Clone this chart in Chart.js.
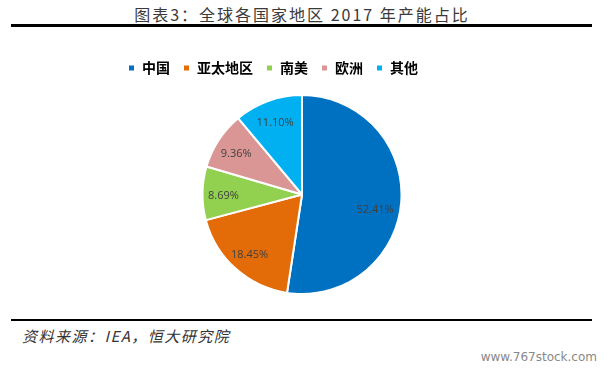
<!DOCTYPE html>
<html>
<head>
<meta charset="utf-8">
<script src="https://cdn.jsdelivr.net/npm/chart.js@4/dist/chart.umd.min.js"></script>
<style>
  body { margin: 0; width: 604px; height: 370px; background: #fff; position: relative; overflow: hidden; }
  #title { position: absolute; top: 2px; left: 0; width: 604px; text-align: center; font: 16px "Noto Sans CJK SC", serif; color: #3a3a3a; letter-spacing: 2px; }
  .rule { position: absolute; left: 11px; width: 581px; background: #000; }
  #src { position: absolute; left: 22px; top: 325px; font: italic 15px "Noto Sans CJK SC", serif; color: #333; letter-spacing: 1.5px; }
  #mark { position: absolute; right: 7px; top: 350px; font: 12px "DejaVu Sans", sans-serif; color: #888; }
  #box { position: absolute; left: 0; top: 48px; width: 604px; height: 256px; }
</style>
</head>
<body>
<div id="title">图表3：全球各国家地区 2017 年产能占比</div>
<div class="rule" style="top:24px;height:3px"></div>
<div id="box"><canvas id="pie"></canvas></div>
<div class="rule" style="top:319px;height:2px"></div>
<div id="src">资料来源：IEA，恒大研究院</div>
<div id="mark">www.767stock.com</div>
<script>
var regions = ["中国", "亚太地区", "南美", "欧洲", "其他"];
var shares = [52.41, 18.45, 8.69, 9.36, 11.10];
var colors = ["#0070C0", "#E36C09", "#92D050", "#D99694", "#00B0F0"];

// 在扇区内画百分比
var pctLabels = {
  id: "pctLabels",
  afterDatasetsDraw: function(chart) {
    var ctx = chart.ctx;
    var meta = chart.getDatasetMeta(0);
    ctx.save();
    ctx.font = "11px 'Open Sans'";
    ctx.fillStyle = "#404040";
    ctx.textAlign = "center";
    ctx.textBaseline = "middle";
    meta.data.forEach(function(arc, i) {
      var mid = (arc.startAngle + arc.endAngle) / 2;
      var r = arc.outerRadius * 0.79;
      if (i == 0) { // 大扇区的标签稍微往下放
        mid += 0.1;
        r = arc.outerRadius * 0.745;
      }
      ctx.fillText(shares[i].toFixed(2) + "%", arc.x + Math.cos(mid) * r, arc.y + Math.sin(mid) * r + 2);
    });
    ctx.restore();
  }
};

// 图例整体往左挪一点
var shiftLegend = {
  id: "shiftLegend",
  afterLayout: function(chart) {
    chart.legend.left -= 29;
    chart.legend.right -= 29;
  }
};

new Chart(document.getElementById("pie").getContext("2d"), {
  type: "pie",
  data: {
    labels: regions,
    datasets: [{
      data: shares,
      backgroundColor: colors,
      borderColor: "#fff",
      borderWidth: 2,
      radius: 99.5
    }]
  },
  options: {
    responsive: true,
    maintainAspectRatio: false,
    animation: false,
    layout: { padding: 0 },
    plugins: {
      legend: {
        position: "top",
        labels: {
          boxWidth: 7,
          boxHeight: 7,
          padding: 13,
          color: "#000",
          font: { family: "'Noto Sans CJK SC'", size: 14, weight: "bold" }
        }
      },
      tooltip: { enabled: false }
    }
  },
  plugins: [pctLabels, shiftLegend]
});
</script>
</body>
</html>
